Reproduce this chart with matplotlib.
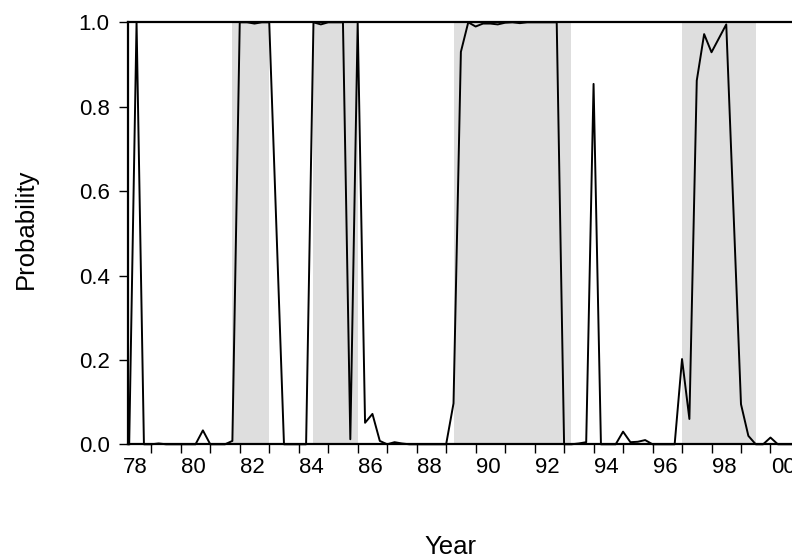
import matplotlib
matplotlib.use("Agg")
import matplotlib.pyplot as plt
import numpy as np

plt.rcParams['font.family'] = ['Liberation Sans', 'DejaVu Sans']

# Quarterly regime probability, first obs is 1978Q2
START_YEAR = 1978
START_Q = 2
prob = [0.0, 1.0, 0.0,                 # 78
        0.0, 0.002, 0.0, 0.0,          # 79
        0.0, 0.0, 0.0, 0.033,          # 80
        0.0, 0.0, 0.0, 0.008,          # 81
        1.0, 1.0, 0.997, 1.0,          # 82
        1.0, 0.5, 0.0, 0.0,            # 83
        0.0, 0.0, 1.0, 0.995,          # 84
        1.0, 1.0, 1.0, 0.012,          # 85
        1.0, 0.051, 0.072, 0.008,      # 86
        0.0, 0.005, 0.002, 0.0,        # 87
        0.0, 0.0, 0.0, 0.0,            # 88
        0.0, 0.097, 0.93, 1.0,         # 89
        0.99, 0.997, 0.997, 0.995,     # 90
        0.999, 1.0, 0.998, 1.0,        # 91
        1.0, 1.0, 1.0, 1.0,            # 92
        0.0, 0.0, 0.002, 0.005,        # 93
        0.854, 0.0, 0.0, 0.0,          # 94
        0.03, 0.005, 0.006, 0.01,      # 95
        0.0, 0.0, 0.0, 0.0,            # 96
        0.202, 0.06, 0.862, 0.972,     # 97
        0.929, 0.962, 0.995, 0.545,    # 98
        0.095, 0.02, 0.0, 0.0,         # 99
        0.016, 0.0, 0.0, 0.0]          # 00

# shaded periods (in years since 1900)
shade_start = [81.75, 84.5, 89.25, 97.0]
shade_end = [83.0, 86.0, 93.25, 99.5]

year_labels = ['78', '80', '82', '84', '86', '88', '90', '92', '94', '96', '98', '00']
label_years = [78, 80, 82, 84, 86, 88, 90, 92, 94, 96, 98, 100]

# x position of each quarter
t = (START_YEAR - 1900) + (START_Q - 1) / 4 + np.arange(len(prob)) / 4

fig = plt.figure(figsize=(7.92, 5.58), dpi=100)
ax = fig.add_axes([128.3 / 792, 1 - 444.3 / 558, 1 - 128.3 / 792, (444.3 - 22.3) / 558])

for a, b in zip(shade_start, shade_end):
    ax.axvspan(a, b, color='#dedede', lw=0, zorder=0)

ax.plot(t, prob, color='black', lw=1.4, clip_on=False, zorder=3)

ax.set_xlim(78.22, 100.73)
ax.set_ylim(0, 1)

# yearly ticks, labels sit just right of the even-year tick
ax.set_xticks(np.arange(79, 101))
ax.set_xticklabels([])
ax.set_xticks([y + 0.44 for y in label_years], minor=True)
ax.set_xticklabels(year_labels, minor=True, fontsize=16)
ax.tick_params(axis='x', which='major', direction='out', length=6.5, width=1)
ax.tick_params(axis='x', which='minor', length=0, pad=9)

ax.set_yticks([0.0, 0.2, 0.4, 0.6, 0.8, 1.0])
ax.set_yticklabels(['0.0', '0.2', '0.4', '0.6', '0.8', '1.0'], fontsize=16)
ax.tick_params(axis='y', direction='out', length=6.5, width=1, pad=7)

ax.spines['right'].set_visible(False)
for s in ['top', 'bottom', 'left']:
    ax.spines[s].set_linewidth(1.6)

fig.text(25.5 / 792, 1 - 229 / 558, 'Probability', rotation=90, ha='center', va='center', fontsize=18.5)
fig.text(450 / 792, 1 - 554 / 558, 'Year', ha='center', va='baseline', fontsize=18.5)

fig.savefig('out.png', dpi=100)
